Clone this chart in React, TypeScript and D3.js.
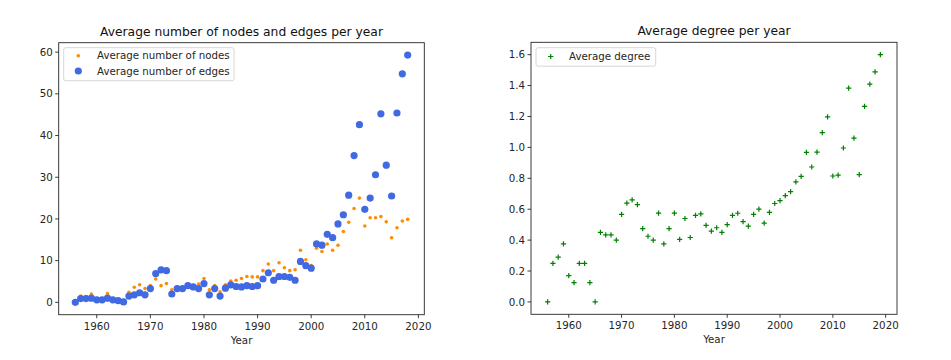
import React from 'react';
import * as d3 from 'd3';

// years covered by each panel
const nodeYears = d3.range(1956, 2019);
const degreeYears = d3.range(1956, 2020);

const avgNodes = [
  0.3, 1.5, 1.4, 2.0, 0.9, 0.8, 2.1, 0.8, 0.5, 0.2,
  2.4, 3.6, 4.2, 3.3, 4.0, 5.6, 4.0, 4.5, 3.0, 3.4,
  3.5, 4.1, 3.8, 4.4, 5.7, 3.0, 4.0, 2.5, 4.2, 5.1,
  5.3, 5.7, 6.2, 6.1, 6.1, 7.6, 9.2, 7.6, 9.5, 8.3,
  7.6, 7.8, 12.5, 10.2, 8.8, 13.0, 12.2, 14.0, 12.5, 13.7,
  17.0, 19.2, 22.5, 25.0, 18.3, 20.3, 20.3, 20.6, 19.3, 15.5,
  17.9, 19.5, 19.9,
];

const avgEdges = [
  0.0, 0.9, 0.9, 1.0, 0.6, 0.6, 1.0, 0.6, 0.4, 0.1,
  1.5, 1.8, 2.3, 1.8, 3.3, 6.9, 7.8, 7.6, 2.0, 3.3,
  3.3, 4.0, 3.7, 3.3, 4.5, 1.8, 3.3, 1.5, 3.4, 4.2,
  3.8, 3.7, 4.0, 3.8, 4.0, 5.6, 7.1, 5.3, 6.2, 6.2,
  6.0, 5.3, 9.8, 8.8, 8.2, 14.0, 13.7, 16.3, 15.5, 18.8,
  21.0, 25.7, 35.2, 42.6, 22.3, 25.0, 30.6, 45.2, 32.9, 25.5,
  45.4, 54.8, 59.3,
];

const avgDegree = [
  0.0, 0.25, 0.29, 0.376, 0.17, 0.125, 0.25, 0.25, 0.125, 0.0,
  0.45, 0.434, 0.434, 0.40, 0.567, 0.64, 0.66, 0.63, 0.475, 0.425,
  0.40, 0.575, 0.376, 0.475, 0.575, 0.405, 0.54, 0.417, 0.56, 0.57,
  0.495, 0.458, 0.48, 0.45, 0.5, 0.56, 0.574, 0.52, 0.49, 0.566,
  0.60, 0.51, 0.58, 0.637, 0.656, 0.688, 0.714, 0.777, 0.813, 0.968,
  0.873, 0.97, 1.095, 1.198, 0.815, 0.82, 0.996, 1.383, 1.06, 0.824,
  1.265, 1.41, 1.488, 1.60,
];

const xTicks = [1960, 1970, 1980, 1990, 2000, 2010, 2020];
const leftYTicks = [0, 10, 20, 30, 40, 50, 60];
const rightYTicks = [0, 0.2, 0.4, 0.6, 0.8, 1.0, 1.2, 1.4, 1.6];

const FONT = 'DejaVu Sans, sans-serif';
const TICK_FS = 10.25;
const TITLE_FS = 12.3;

// matplotlib-like autoscale with 5% margins
const padded = (lo: number, hi: number) => {
  const m = (hi - lo) * 0.05;
  return [lo - m, hi + m];
};

type AxesProps = {
  left: number;
  right: number;
  top: number;
  bottom: number;
  xDomain: number[];
  yDomain: number[];
  yTicks: number[];
  yFmt: (v: number) => string;
  title: string;
  children: (x: d3.ScaleLinear<number, number>, y: d3.ScaleLinear<number, number>) => React.ReactNode;
};

const Axes = ({ left, right, top, bottom, xDomain, yDomain, yTicks, yFmt, title, children }: AxesProps) => {
  const x = d3.scaleLinear().domain(xDomain).range([left, right]);
  const y = d3.scaleLinear().domain(yDomain).range([bottom, top]);
  const stroke = '#262626';
  return (
    <g>
      {children(x, y)}
      <rect x={left} y={top} width={right - left} height={bottom - top} fill="none" stroke={stroke} strokeWidth={0.9} />
      {xTicks.map(t => (
        <g key={t}>
          <line x1={x(t)} x2={x(t)} y1={bottom} y2={bottom + 3.5} stroke={stroke} strokeWidth={0.9} />
          <text x={x(t)} y={bottom + 15} textAnchor="middle" fontSize={TICK_FS} fill="#262626">{t}</text>
        </g>
      ))}
      {yTicks.map(t => (
        <g key={t}>
          <line x1={left - 3.5} x2={left} y1={y(t)} y2={y(t)} stroke={stroke} strokeWidth={0.9} />
          <text x={left - 6} y={y(t)} dy="0.35em" textAnchor="end" fontSize={TICK_FS} fill="#262626">{yFmt(t)}</text>
        </g>
      ))}
      <text x={(left + right) / 2} y={bottom + 29} textAnchor="middle" fontSize={TICK_FS} fill="#262626">Year</text>
      <text x={(left + right) / 2} y={top - 7} textAnchor="middle" fontSize={TITLE_FS} fill="#111">{title}</text>
    </g>
  );
};

const plus = (cx: number, cy: number, s: number) => `M${cx - s},${cy}H${cx + s}M${cx},${cy - s}V${cy + s}`;

const App = () => {
  const leftX = padded(1956, 2018);
  const leftY = padded(0, d3.max(avgEdges) as number);
  const rightX = padded(1956, 2019);
  const rightY = padded(0, d3.max(avgDegree) as number);

  return (
    <svg width={951} height={360} style={{ position: 'absolute', left: 0, top: 0, fontFamily: FONT, background: '#fff' }}>
      <rect width={951} height={360} fill="#fff" />
      <Axes
        left={58.7} right={424.3} top={42.7} bottom={314.7}
        xDomain={leftX} yDomain={leftY} yTicks={leftYTicks}
        yFmt={v => String(v)}
        title="Average number of nodes and edges per year"
      >
        {(x, y) => (
          <g>
            {nodeYears.map((yr, i) => (
              <circle key={'n' + yr} cx={x(yr)} cy={y(avgNodes[i])} r={1.8} fill="#ff8c00" />
            ))}
            {nodeYears.map((yr, i) => (
              <circle key={'e' + yr} cx={x(yr)} cy={y(avgEdges[i])} r={3.6} fill="#4169e1" />
            ))}
            {/* legend */}
            <rect x={63.7} y={47.7} width={170.3} height={33} rx={2} fill="#fff" fillOpacity={0.8} stroke="#cccccc" strokeWidth={0.8} />
            <circle cx={78.3} cy={55.7} r={1.8} fill="#ff8c00" />
            <text x={97} y={55.7} dy="0.35em" fontSize={TICK_FS} fill="#262626">Average number of nodes</text>
            <circle cx={78.3} cy={71} r={3.6} fill="#4169e1" />
            <text x={97} y={71} dy="0.35em" fontSize={TICK_FS} fill="#262626">Average number of edges</text>
          </g>
        )}
      </Axes>
      <Axes
        left={531} right={897} top={42.3} bottom={314.3}
        xDomain={rightX} yDomain={rightY} yTicks={rightYTicks}
        yFmt={d3.format('.1f')}
        title="Average degree per year"
      >
        {(x, y) => (
          <g>
            {degreeYears.map((yr, i) => (
              <path key={yr} d={plus(x(yr), y(avgDegree[i]), 2.6)} stroke="#008000" strokeWidth={1.2} fill="none" />
            ))}
            <rect x={536} y={47.7} width={119.7} height={18.5} rx={2} fill="#fff" fillOpacity={0.8} stroke="#cccccc" strokeWidth={0.8} />
            <path d={plus(550.7, 56.5, 2.6)} stroke="#008000" strokeWidth={1.2} fill="none" />
            <text x={569} y={56.5} dy="0.35em" fontSize={TICK_FS} fill="#262626">Average degree</text>
          </g>
        )}
      </Axes>
    </svg>
  );
};

export default App;
